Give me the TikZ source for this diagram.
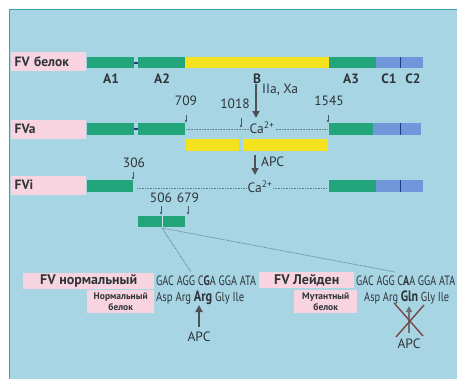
\documentclass[tikz,border=0pt]{standalone}
\usepackage{fontspec}
\usepackage{graphicx}
\setmainfont{PT Sans}
\usetikzlibrary{arrows.meta}
\definecolor{bg}{HTML}{A8D5E4}
\definecolor{frame}{HTML}{3E9FAE}
\definecolor{grn}{HTML}{22A57A}
\definecolor{yel}{HTML}{F4E21E}
\definecolor{blu}{HTML}{7097DA}
\definecolor{dblu}{HTML}{1C3C8C}
\definecolor{pnk}{HTML}{F8D4E0}
\definecolor{txt}{HTML}{2E3438}
\definecolor{dots}{HTML}{61808E}
\definecolor{xred}{HTML}{7A4646}
\newcommand{\fitw}[2]{\resizebox{#1}{\height}{#2}}
\begin{document}
\begin{tikzpicture}[x=1pt,y=-1pt,
  pinkbox/.style={fill=pnk, inner sep=0pt, text=txt},
  rowlabel/.style={pinkbox, minimum width=75pt, minimum height=19pt, anchor=west, font=\bfseries\fontsize{13.5}{15}\selectfont, text width=71pt, align=left},
  dom/.style={font=\bfseries\fontsize{13.5}{15}\selectfont, text=txt, inner sep=0pt},
  num/.style={font=\fontsize{13.5}{15}\selectfont, text=txt, inner sep=0pt},
  tick/.style={draw=dots!70!black, line width=0.6pt, -{Latex[length=3pt,width=2.6pt]}},
  bigarrow/.style={draw=txt!85, line width=1.8pt, -{Triangle[length=7pt,width=7pt]}},
  dotline/.style={draw=dots, line width=0.8pt, dash pattern=on 0.8pt off 0.8pt},
  codon/.style={font=\fontsize{13.5}{15}\selectfont, text=txt, inner sep=0pt, anchor=west},
  amino/.style={font=\fontsize{13}{15}\selectfont, text=txt, inner sep=0pt, anchor=west},
  prot/.style={pinkbox, font=\bfseries\fontsize{9.5}{11}\selectfont, align=center, minimum height=23pt},
  cal/.style={font=\fontsize{13.5}{15}\selectfont, text=txt, inner sep=1pt, fill=bg}
]
\useasboundingbox (0,0) rectangle (457,378);
\fill[white] (0,0) rectangle (457,378);
\draw[fill=bg, draw=frame, line width=1pt] (9,9) rectangle (462,382);

% ---------- Row 1 : FV protein ----------
\node[rowlabel] (l1) at (11,61.5) {\hspace*{1.5pt}FV белок};
\fill[grn] (87,57) rectangle (134,68);
\fill[dblu] (134,61.5) rectangle (137.5,63.5);
\fill[grn] (138,57) rectangle (185,68);
\fill[yel] (185,57) rectangle (329,68);
\fill[grn] (329,57) rectangle (376,68);
\fill[blu] (376,57) rectangle (423,68);
\draw[dblu, line width=1pt] (400.5,57) -- (400.5,68);
\node[dom] (a1) at (111,79) {A1};
\node[dom] (a2) at (162,79) {A2};
\node[dom] (b)  at (257,79) {B};
\node[dom] (a3) at (351,79) {A3};
\node[dom] (c1) at (389,79) {C1};
\node[dom] (c2) at (413,79) {C2};

% ---------- Row 2 : FVa ----------
\node[rowlabel] (l2) at (11,129) {\hspace*{1.5pt}FVa};
\fill[grn] (87,123) rectangle (134,135);
\fill[dblu] (134,128) rectangle (137.5,130);
\fill[grn] (138,123) rectangle (185,135);
\fill[grn] (329,123) rectangle (373,135);
\fill[blu] (373,123) rectangle (421,135);
\draw[dblu, line width=1pt] (400.5,123) -- (400.5,135);
\coordinate (fa1) at (186,129);
\coordinate (fa2) at (328,129);
\draw[dotline] (fa1) -- (fa2);
\node[cal] (ca1) at (262,128) {Ca\textsuperscript{2+}};
\fill[yel] (186,139) rectangle (239,151);
\fill[yel] (243,139) rectangle (328,151);

\node[num] (n709) at (186,101) {709};
\node[num] (n1018) at (235,104) {1018};
\node[num] (n1545) at (329,101) {1545};
\coordinate (t709) at (186,123);
\coordinate (t1018a) at (241,118);
\coordinate (t1018) at (241,128);
\coordinate (t1545) at (328,123);
\draw[tick] (186,115) -- (t709);
\draw[tick] (t1018a) -- (t1018);
\draw[tick] (328,115) -- (t1545);

\coordinate (iia0) at (256,84);
\coordinate (iia1) at (256,118);
\draw[bigarrow] (iia0) -- (iia1);
\node[num, anchor=west] (iia) at (262,90) {IIa, Xa};

% ---------- APC arrow ----------
\coordinate (apc0) at (255,155);
\coordinate (apc1) at (255,175);
\draw[bigarrow] (apc0) -- (apc1);
\node[num, anchor=west] (apc) at (261,162) {APC};

% ---------- Row 3 : FVi ----------
\node[rowlabel] (l3) at (11,185) {\hspace*{1.5pt}FVi};
\fill[grn] (87,180) rectangle (133,192);
\fill[grn] (329,180) rectangle (376,192);
\fill[blu] (376,180) rectangle (423,192);
\draw[dblu, line width=1pt] (400.5,180) -- (400.5,192);
\coordinate (fi1) at (137,188);
\coordinate (fi2) at (327,188);
\draw[dotline] (fi1) -- (fi2);
\node[cal] (ca2) at (260,187) {Ca\textsuperscript{2+}};
\node[num] (n306) at (134,163) {306};
\draw[tick] (133,172) -- (133,180);

% ---------- Fragment 506-679 ----------
\node[num] (n506) at (161,198) {506};
\node[num] (n679) at (188,198) {679};
\draw[tick] (161,206) -- (161,215);
\draw[tick] (188,206) -- (188,215);
\fill[grn] (138,216) rectangle (185,227);
\draw[bg!60!white, line width=0.7pt] (162,216) -- (162,227);
\coordinate (fr) at (162,228);
\coordinate (zl) at (191,272);
\coordinate (zr) at (395,272);
\draw[dotline] (fr) -- (zl);
\draw[dotline] (fr) -- (zr);

% ---------- Normal ----------
\node[pinkbox, minimum width=131pt, minimum height=16pt, font=\bfseries\fontsize{14}{16}\selectfont, anchor=west] (nrm) at (23,281) {FV нормальный};
\node[codon] (cod1) at (156,281) {\fitw{100pt}{GAC AGG C\textbf{G}A GGA ATA}};
\node[prot, minimum width=67pt, anchor=north west] (np) at (87,290) {Нормальный\\белок};
\node[amino] (aa1) at (156,298) {\fitw{88pt}{Asp Arg {\bfseries\fontsize{15}{16}\selectfont Arg} Gly Ile}};
\coordinate (arr0) at (199,327);
\coordinate (arr1) at (199,305);
\draw[bigarrow] (arr0) -- (arr1);
\node[num] (apc2) at (199,337) {APC};

% ---------- Leiden ----------
\node[pinkbox, minimum width=95pt, minimum height=16pt, font=\bfseries\fontsize{14}{16}\selectfont, anchor=west] (ld) at (259,280) {FV Лейден};
\node[codon] (cod2) at (356,281) {\fitw{99pt}{GAC AGG C\textbf{A}A GGA ATA}};
\node[prot, minimum width=63pt, anchor=north west] (mp) at (294,290) {Мутантный\\белок};
\node[amino] (aa2) at (364,298) {\fitw{85pt}{Asp Arg {\bfseries\fontsize{15}{16}\selectfont Gln} Gly Ile}};
\coordinate (brr0) at (409,333);
\coordinate (brr1) at (409,306);
\draw[draw=txt!70, line width=1.4pt, -{Triangle[length=6pt,width=6pt]}] (brr0) -- (brr1);
\draw[xred, line width=1.4pt] (395,304) -- (423,336);
\draw[xred, line width=1.4pt] (424,305) -- (396,337);
\node[num] (apc3) at (409,344) {APC};
\end{tikzpicture}
\end{document}
